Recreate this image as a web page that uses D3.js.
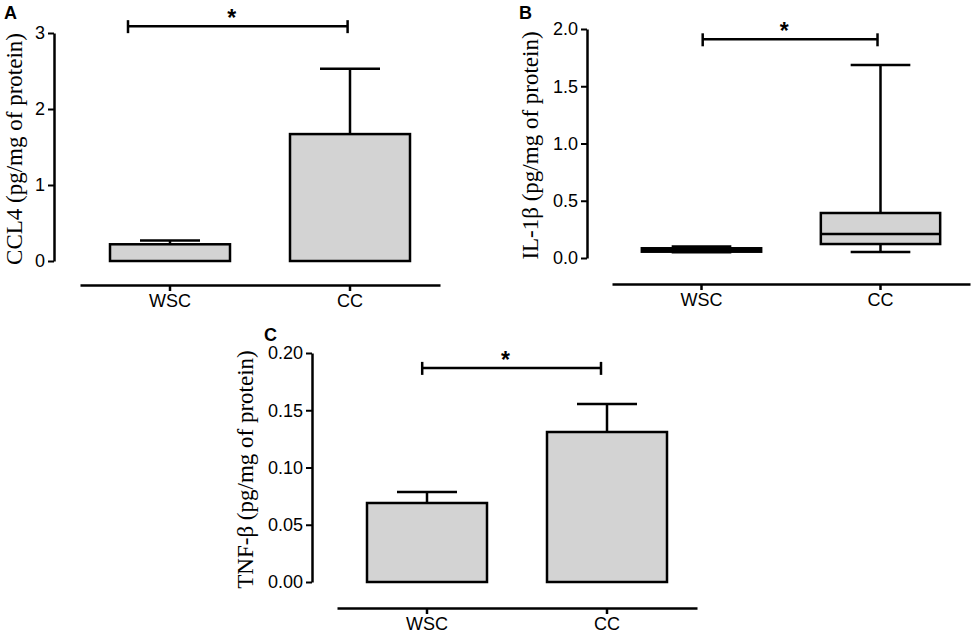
<!DOCTYPE html>
<html>
<head>
<meta charset="utf-8">
<script src="https://cdn.jsdelivr.net/npm/d3@7"></script>
<style>
  body { margin: 0; background: #fff; }
  .tick text { font-family: "Liberation Sans", Arial, sans-serif; }
</style>
</head>
<body>
<svg id="fig"></svg>
<script>
// groups on the x axis
const groups = ["WSC", "CC"];

// A: CCL4, mean + SEM
const ccl4Mean = [0.22, 1.67];
const ccl4Err = [0.05, 0.86];
const ccl4Ticks = [0, 1, 2, 3];

// B: IL-1beta, box plot [min, q1, median, q3, max]
const il1bBoxWSC = [0.05, 0.055, 0.07, 0.085, 0.10];
const il1bBoxCC = [0.052, 0.122, 0.21, 0.393, 1.686];
const il1bTicks = [0, 0.5, 1.0, 1.5, 2.0];

// C: TNF-beta, mean + SEM
const tnfMean = [0.069, 0.131];
const tnfErr = [0.0095, 0.0245];
const tnfTicks = [0, 0.05, 0.10, 0.15, 0.20];

// significance bracket heights (data units)
const sigLevel = [3.09, 1.91, 0.187];

class Panel {
    constructor(_config){
        this.config = _config;
        this.initVis();
    }

    initVis(){
        let vis = this;
        const c = vis.config;
        vis.g = d3.select('#fig').append('g');

        vis.yScale = d3.scaleLinear()
            .domain(c.yDomain)
            .range(c.yRange);

        vis.xScale = d3.scaleBand()
            .domain(groups)
            .range(c.xRange)
            .paddingInner(1/3)
            .paddingOuter(1/6);

        // y axis
        const yAxis = vis.g.append('g')
            .attr('transform', `translate(${c.axisX},0)`)
            .call(d3.axisLeft(vis.yScale).tickValues(c.ticks).tickFormat(d3.format(c.fmt))
                .tickSize(6).tickSizeOuter(0).tickPadding(3));
        yAxis.select('.domain').attr('stroke-width', 2.5);
        yAxis.selectAll('.tick line').attr('stroke-width', 2);
        yAxis.selectAll('.tick text').attr('font-size', 18).attr('fill', '#000');

        // x axis line sitting below the plot
        const xAxis = vis.g.append('g')
            .attr('transform', `translate(0,${c.xLineY})`)
            .call(d3.axisBottom(vis.xScale).tickSize(6).tickSizeOuter(0).tickPadding(3));
        xAxis.select('.domain').attr('stroke-width', 2.5);
        xAxis.selectAll('.tick line').attr('stroke-width', 2.5);
        xAxis.selectAll('.tick text').attr('font-size', 18).attr('fill', '#000');

        // y title
        const yMid = (c.yRange[0] + c.yRange[1]) / 2 + 2;
        vis.g.append('text')
            .attr('transform', `translate(${c.titleX},${yMid}) rotate(-90)`)
            .attr('text-anchor', 'middle')
            .attr('dominant-baseline', 'central')
            .attr('font-family', '"Liberation Serif", "Times New Roman", serif')
            .attr('font-size', 23)
            .attr('fill', '#000')
            .text(c.title);

        // panel letter
        vis.g.append('text')
            .attr('x', c.letterX)
            .attr('y', c.letterY)
            .attr('font-family', '"Liberation Sans", Arial, sans-serif')
            .attr('font-weight', 'bold')
            .attr('font-size', 18)
            .text(c.letter);

        vis.drawMarks();
        vis.drawSig();
    }

    drawMarks(){
        let vis = this;
        const c = vis.config;
        const bw = vis.xScale.bandwidth();

        if(c.type === 'bar'){
            const data = groups.map((gname, i) => ({g: gname, m: c.mean[i], e: c.err[i]}));
            const mk = vis.g.selectAll('.bar').data(data).join('g').attr('class', 'bar');
            // error bar first so the box covers its base
            mk.append('line')
                .attr('x1', d => vis.xScale(d.g) + bw/2)
                .attr('x2', d => vis.xScale(d.g) + bw/2)
                .attr('y1', d => vis.yScale(d.m))
                .attr('y2', d => vis.yScale(d.m + d.e))
                .attr('stroke', '#000').attr('stroke-width', 2.5);
            mk.append('line')
                .attr('x1', d => vis.xScale(d.g) + bw/4)
                .attr('x2', d => vis.xScale(d.g) + bw*3/4)
                .attr('y1', d => vis.yScale(d.m + d.e))
                .attr('y2', d => vis.yScale(d.m + d.e))
                .attr('stroke', '#000').attr('stroke-width', 2.5);
            mk.append('rect')
                .attr('x', d => vis.xScale(d.g))
                .attr('width', bw)
                .attr('y', d => vis.yScale(d.m))
                .attr('height', d => vis.yScale(0) - vis.yScale(d.m))
                .attr('fill', '#d3d3d3')
                .attr('stroke', '#000').attr('stroke-width', 2.5);
        }
        else{
            const data = groups.map((gname, i) => ({g: gname, s: c.boxes[i]}));
            const mk = vis.g.selectAll('.box').data(data).join('g').attr('class', 'box');
            // whisker
            mk.append('line')
                .attr('x1', d => vis.xScale(d.g) + bw/2)
                .attr('x2', d => vis.xScale(d.g) + bw/2)
                .attr('y1', d => vis.yScale(d.s[0]))
                .attr('y2', d => vis.yScale(d.s[4]))
                .attr('stroke', '#000').attr('stroke-width', 2.5);
            [0, 4].forEach(k => {
                mk.append('line')
                    .attr('x1', d => vis.xScale(d.g) + bw/4)
                    .attr('x2', d => vis.xScale(d.g) + bw*3/4)
                    .attr('y1', d => vis.yScale(d.s[k]))
                    .attr('y2', d => vis.yScale(d.s[k]))
                    .attr('stroke', '#000').attr('stroke-width', 2.5);
            });
            mk.append('rect')
                .attr('x', d => vis.xScale(d.g))
                .attr('width', bw)
                .attr('y', d => vis.yScale(d.s[3]))
                .attr('height', d => vis.yScale(d.s[1]) - vis.yScale(d.s[3]))
                .attr('fill', '#d3d3d3')
                .attr('stroke', '#000').attr('stroke-width', 2.5);
            mk.append('line')
                .attr('x1', d => vis.xScale(d.g))
                .attr('x2', d => vis.xScale(d.g) + bw)
                .attr('y1', d => vis.yScale(d.s[2]))
                .attr('y2', d => vis.yScale(d.s[2]))
                .attr('stroke', '#000').attr('stroke-width', 2.5);
        }
    }

    drawSig(){
        let vis = this;
        const c = vis.config;
        const bw = vis.xScale.bandwidth();
        const y = vis.yScale(c.sig);
        const x1 = vis.xScale('WSC') + bw * c.sigFrac[0];
        const x2 = vis.xScale('CC') + bw * c.sigFrac[1];

        vis.g.append('line')
            .attr('x1', x1).attr('x2', x2).attr('y1', y).attr('y2', y)
            .attr('stroke', '#000').attr('stroke-width', 2.5);
        [x1, x2].forEach(x => {
            vis.g.append('line')
                .attr('x1', x).attr('x2', x).attr('y1', y - 6).attr('y2', y + 7)
                .attr('stroke', '#000').attr('stroke-width', 2.5);
        });
        vis.g.append('text')
            .attr('x', (x1 + x2)/2 - 6)
            .attr('y', y)
            .attr('text-anchor', 'middle')
            .attr('font-family', '"Liberation Sans", Arial, sans-serif')
            .attr('font-weight', 'bold')
            .attr('font-size', 23)
            .text('*');
    }
}

d3.select('#fig').attr('width', 974).attr('height', 636);

new Panel({
    type: 'bar', letter: 'A', letterX: 4, letterY: 19,
    title: 'CCL4 (pg/mg of protein)', titleX: 14,
    yDomain: [0, 3], yRange: [261, 33], ticks: ccl4Ticks, fmt: 'd',
    axisX: 54, xRange: [80, 440], xLineY: 285,
    mean: ccl4Mean, err: ccl4Err,
    sig: sigLevel[0], sigFrac: [0.15, 0.48]
});

new Panel({
    type: 'box', letter: 'B', letterX: 519, letterY: 19,
    title: 'IL-1β (pg/mg of protein)', titleX: 530,
    yDomain: [0, 2], yRange: [258, 29], ticks: il1bTicks, fmt: '.1f',
    axisX: 587, xRange: [612, 970], xLineY: 284,
    boxes: [il1bBoxWSC, il1bBoxCC],
    sig: sigLevel[1], sigFrac: [0.51, 0.475]
});

new Panel({
    type: 'bar', letter: 'C', letterX: 264, letterY: 341,
    title: 'TNF-β (pg/mg of protein)', titleX: 245,
    yDomain: [0, 0.2], yRange: [582, 353], ticks: tnfTicks, fmt: '.2f',
    axisX: 312, xRange: [337, 697], xLineY: 608,
    mean: tnfMean, err: tnfErr,
    sig: sigLevel[2], sigFrac: [0.46, 0.45]
});
</script>
</body>
</html>
